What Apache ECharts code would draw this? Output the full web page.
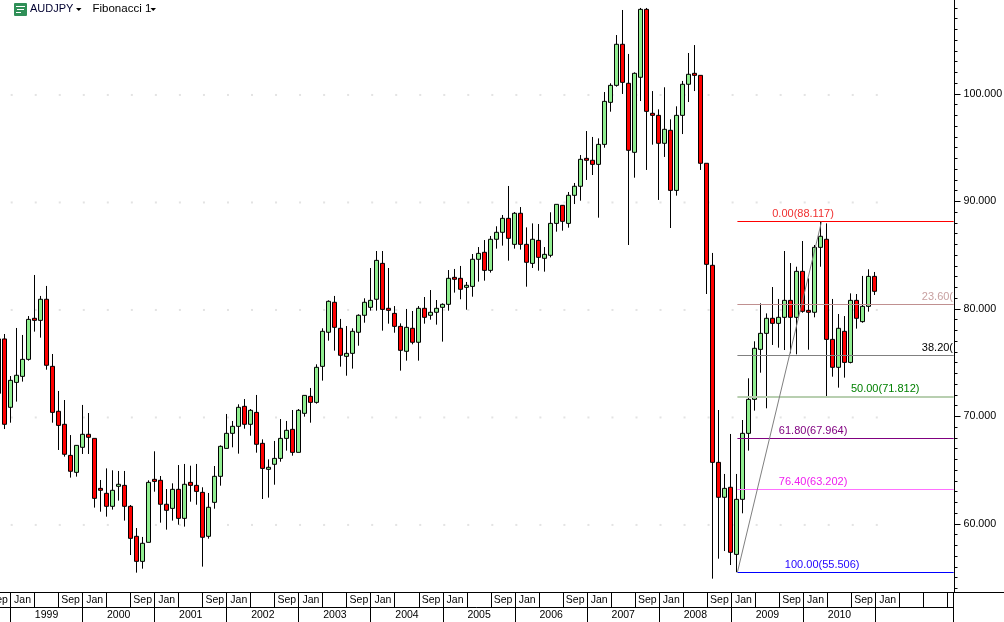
<!DOCTYPE html>
<html>
<head>
<meta charset="utf-8">
<title>AUDJPY monthly</title>
<style>html,body{margin:0;padding:0;background:#fff;overflow:hidden}#chart{width:1004px;height:622px}</style>
<script src="https://cdn.jsdelivr.net/npm/echarts@6/dist/echarts.min.js"></script>
</head>
<body>
<div id="chart"></div>
<script>
// Monthly AUD/JPY candles, one row per month: [open, close, low, high]
const bars1998 = [[72.15,77.21,72.15,77.21],[77.21,69.27,68.83,77.67]];
const bars1999 = [[70.85,73.36,69.42,73.76],[73.17,73.83,71.38,78.23],[73.73,75.31,73.24,77.58],[75.31,79.03,75.19,79.34],[79.13,78.94,77.89,83.16],[78.94,80.90,77.33,81.21],[80.90,74.76,74.35,82.14],[74.66,70.38,69.42,75.81],[70.48,69.17,66.88,72.37],[69.27,66.48,66.26,71.53],[66.38,64.90,64.31,68.27],[64.80,67.31,64.40,67.34]];
const bars2000 = [[67.13,68.34,66.51,71.07],[68.34,68.06,66.51,70.32],[67.96,62.38,61.52,67.96],[63.31,63.13,61.14,64.09],[62.85,61.64,60.68,65.17],[61.64,63.13,61.33,64.99],[63.50,63.69,62.17,64.93],[63.59,61.64,60.31,64.93],[61.64,58.66,57.11,61.76],[58.85,56.52,55.47,59.62],[56.52,58.20,55.84,58.79],[58.29,63.87,58.29,64.06]];
const bars2001 = [[64.15,63.96,63.00,66.76],[64.06,61.83,60.12,64.46],[61.83,61.27,59.47,63.25],[61.45,63.22,60.31,63.78],[63.22,60.52,59.93,65.48],[60.52,63.69,59.75,65.58],[63.87,63.59,62.07,65.42],[63.59,63.03,61.79,65.58],[62.94,58.76,56.03,63.41],[58.85,61.55,58.63,62.88],[62.01,64.43,61.42,65.39],[64.43,67.22,63.56,67.31]];
const bars2002 = [[67.03,68.43,67.03,70.23],[68.43,69.08,67.13,69.58],[69.08,70.85,66.54,71.13],[70.94,69.27,68.86,71.62],[69.27,70.57,68.21,70.69],[70.38,67.41,66.63,72.00],[67.50,65.17,62.32,67.87],[65.08,65.27,62.45,66.01],[65.55,66.10,63.65,67.72],[66.10,67.96,65.79,69.76],[67.96,68.71,66.82,69.58],[68.80,66.66,66.35,70.60]];
const bars2003 = [[66.66,70.57,66.66,70.69],[70.29,71.96,69.98,71.96],[71.87,71.31,69.42,72.65],[71.31,74.57,71.19,74.85],[74.66,77.92,73.33,78.20],[77.83,80.71,77.05,80.80],[80.62,78.29,76.12,81.21],[78.20,75.69,74.63,79.07],[75.59,75.87,73.79,78.41],[75.87,77.92,74.45,78.20],[77.83,79.41,76.58,79.50],[79.41,80.62,78.72,80.99]];
const bars2004 = [[80.15,80.80,79.84,83.81],[80.90,84.52,79.84,85.39],[84.24,79.96,77.98,85.39],[80.06,79.87,78.63,83.81],[79.59,78.38,77.79,80.27],[78.38,76.15,74.26,78.66],[76.06,78.29,75.19,80.00],[78.20,76.90,76.71,79.81],[76.90,80.06,75.19,80.27],[80.06,79.22,78.63,81.11],[79.41,79.69,79.00,81.76],[79.69,80.06,78.54,80.83]];
const bars2005 = [[80.15,80.43,76.96,80.52],[80.43,82.85,79.84,83.62],[82.94,82.76,81.52,83.72],[82.85,81.83,80.90,84.00],[82.01,82.20,79.93,82.51],[82.10,84.62,81.14,85.11],[84.62,85.17,82.54,85.76],[85.27,83.59,82.63,86.41],[83.59,86.48,83.38,86.79],[86.48,87.13,85.61,87.69],[87.13,88.43,85.89,88.74],[88.43,86.57,84.49,91.44]];
const bars2006 = [[86.01,88.90,85.61,89.02],[88.90,86.01,85.52,89.48],[86.01,84.34,82.07,87.59],[84.24,86.48,83.81,87.96],[86.38,84.80,83.56,87.90],[84.71,85.08,83.47,85.76],[84.99,87.96,84.80,88.99],[87.96,89.73,87.19,89.73],[89.64,88.15,87.28,89.67],[87.96,90.57,87.56,90.88],[90.57,91.41,89.76,91.72],[91.41,93.92,90.07,94.32]];
const bars2007 = [[94.01,93.83,92.00,96.55],[93.83,93.45,92.46,96.00],[93.45,95.31,88.49,95.87],[95.31,99.31,95.00,100.18],[99.22,100.80,98.35,100.99],[100.80,104.62,100.68,105.48],[104.62,101.08,100.00,107.81],[100.99,94.76,85.95,103.72],[94.57,101.92,92.21,102.01],[101.55,107.87,99.34,108.00],[107.87,98.38,92.93,108.00],[98.20,98.01,95.28,100.27]];
const bars2008 = [[98.01,95.41,90.14,98.57],[95.41,96.71,94.14,100.62],[96.62,91.03,87.53,97.64],[91.03,98.01,90.54,98.85],[98.01,100.90,96.27,101.21],[100.90,101.83,99.25,103.81],[101.92,101.73,100.27,104.55],[101.73,93.55,92.93,101.73],[93.55,84.15,81.39,93.55],[84.06,65.73,54.91,85.21],[65.73,62.48,56.77,70.60],[62.48,63.31,57.48,64.65]];
const bars2009 = [[63.41,57.36,56.18,68.37],[57.17,62.29,55.51,64.65],[62.29,68.43,60.99,69.67],[68.43,71.59,66.82,73.55],[71.59,76.34,70.54,76.99],[76.24,77.73,74.07,80.52],[77.73,79.13,70.76,79.59],[79.13,78.66,76.65,82.04],[78.66,79.22,76.40,80.93],[79.22,80.80,76.18,85.39],[80.80,79.22,75.87,84.27],[79.22,83.50,75.78,83.93]];
const bars2010 = [[83.50,79.78,79.65,86.32],[79.87,79.69,76.21,82.85],[79.69,85.73,79.22,85.95],[85.73,86.76,83.93,88.12],[86.48,77.17,71.81,87.96],[77.17,74.57,73.70,80.93],[74.57,78.20,72.68,79.53],[77.92,75.03,73.61,79.34],[75.03,80.80,74.94,81.45],[80.80,79.13,78.17,81.39],[78.82,80.24,78.72,83.07],[80.24,83.03,79.75,83.69]];
const bars2011 = [[83.03,81.64,81.30,83.44]];

const priceMin = 53.67, priceMax = 108.74;
const priceLabels = [60, 70, 80, 90, 100];
const priceTicks = [54,55,56,57,58,59,61,62,63,64,65,66,67,68,69,71,72,73,74,75,76,77,78,79,81,82,83,84,85,86,87,88,89,91,92,93,94,95,96,97,98,99,101,102,103,104,105,106,107,108];

// Calendar strip, in months counted from January 1999
const yearLabels = ['1999','2000','2001','2002','2003','2004','2005','2006','2007','2008','2009','2010'];
const monthCellStarts = [-4,0,4,8,12,16,20,24,28,32,36,40,44,48,52,56,60,64,68,72,76,80,84,88,92,96,100,104,108,112,116,120,124,128,132,136,140,144,148,152,156];
const monthCellLabels = ['Sep','Jan','','Sep','Jan','','Sep','Jan','','Sep','Jan','','Sep','Jan','','Sep','Jan','','Sep','Jan','','Sep','Jan','','Sep','Jan','','Sep','Jan','','Sep','Jan','','Sep','Jan','','Sep','Jan','','',''];

// Fibonacci retracement drawn from the 2008 low to the 2010 high
const fibStartMonth = 121, fibPeakMonth = 135, fibEndMonth = 157;
const fibLow = 55.506, fibHigh = 88.117;
const fibPrices = [88.117, 80.421, 75.660, 71.812, 67.964, 63.202, 55.506];
const fibLabels = ['0.00(88.117)', '23.60(', '38.20(', '50.00(71.812)', '61.80(67.964)', '76.40(63.202)', '100.00(55.506)'];
const fibLabelMonths = [126.8, 151.7, 151.7, 139.9, 127.9, 127.9, 128.9];
const fibLineColors = ['#ff0000', '#c09090', '#808080', '#b8cfb0', '#800080', '#ff70ff', '#0000ff'];
const fibLineWidths = [1, 1, 1, 2, 1, 1, 1];
const fibTextColors = ['#f03030', '#c8a0a0', '#000000', '#008000', '#800080', '#f020f0', '#2000ff'];

const bars = [].concat(bars1998, bars1999, bars2000, bars2001, bars2002, bars2003, bars2004, bars2005, bars2006, bars2007, bars2008, bars2009, bars2010, bars2011);
const FONT = '"Liberation Sans", Arial, sans-serif';
const TEXT_FONT = '10.5px ' + FONT;
const CAPTION_FONT = '11px ' + FONT;

// Category slots cover the bars plus the empty months before the price scale
const SLOT_COUNT = 160;
const slots = [];
for (let i = 0; i < SLOT_COUNT; i++) {
  const m = i - 2;
  const year = 1999 + Math.floor(m / 12);
  slots.push(year + '-' + String(((m % 12) + 12) % 12 + 1).padStart(2, '0'));
}

// Pixel scale of the calendar axes
const MONTH_PX = 6.0075, ORIGIN_PX = 10.5;
const monthAt = px => (px - ORIGIN_PX) / MONTH_PX;

const snap = v => Math.round(v - 0.5) + 0.5;
const inkLine = (x1, y1, x2, y2, color, width) => ({
  type: 'line',
  shape: { x1, y1, x2, y2 },
  style: { stroke: color, lineWidth: width || 1 }
});
const cellText = (text, x, y) => ({
  type: 'text',
  style: { text, x, y, fill: '#000', font: TEXT_FONT, align: 'center', verticalAlign: 'middle' }
});

// Grid dots every four months on each labelled price
const gridDots = [];
priceLabels.forEach(p => {
  for (let m = 0; m <= 144; m += 4) gridDots.push([m + 0.2, p]);
});

const chart = echarts.init(document.getElementById('chart'), null, { renderer: 'canvas' });
chart.setOption({
  animation: false,
  backgroundColor: '#ffffff',
  grid: [
    { left: -4.5, top: 0, width: 960, height: 592, outerBoundsMode: 'none' },
    { left: 0, top: 592, width: 1004, height: 30, outerBoundsMode: 'none' }
  ],
  xAxis: [
    { type: 'category', gridIndex: 0, data: slots, show: false },
    { type: 'value', gridIndex: 0, show: false, min: monthAt(-4.5), max: monthAt(955.5) },
    { type: 'value', gridIndex: 1, show: false, min: monthAt(0), max: monthAt(1004) }
  ],
  yAxis: [
    {
      type: 'value', gridIndex: 0, position: 'right', offset: -1, min: priceMin, max: priceMax,
      axisLine: { show: true, onZero: false, lineStyle: { color: '#000' } },
      axisTick: { show: true, length: 6, lineStyle: { color: '#000' }, customValues: priceLabels },
      axisLabel: {
        show: true, color: '#000', margin: 9, fontFamily: FONT, fontSize: 10.7, padding: [2, 0, 0, 0],
        customValues: priceLabels, formatter: v => v.toFixed(3)
      },
      splitLine: { show: false }
    },
    {
      type: 'value', gridIndex: 0, position: 'right', offset: -1, min: priceMin, max: priceMax,
      axisLine: { show: false, onZero: false },
      axisTick: { show: true, length: 3, lineStyle: { color: '#000' }, customValues: priceTicks },
      axisLabel: { show: false },
      splitLine: { show: false }
    },
    { type: 'value', gridIndex: 1, show: false, min: 0, max: 2 }
  ],
  graphic: [
    { type: 'line', silent: true, z: 10, shape: { x1: 0, y1: 592.5, x2: 1004, y2: 592.5 }, style: { stroke: '#000', lineWidth: 1 } },
    { type: 'rect', silent: true, z: 10, shape: { x: 14, y: 3, width: 13, height: 13, r: 1 }, style: { fill: '#2f8f57' } },
    { type: 'line', silent: true, z: 11, shape: { x1: 16, y1: 6.5, x2: 25, y2: 6.5 }, style: { stroke: '#fff', lineWidth: 1 } },
    { type: 'line', silent: true, z: 11, shape: { x1: 17, y1: 9.5, x2: 24, y2: 9.5 }, style: { stroke: '#fff', lineWidth: 1 } },
    { type: 'line', silent: true, z: 11, shape: { x1: 16, y1: 12.5, x2: 21, y2: 12.5 }, style: { stroke: '#fff', lineWidth: 1 } },
    { type: 'text', silent: true, z: 11, style: { text: 'AUDJPY', x: 30, y: 9, fill: '#000030', font: '11px ' + FONT, verticalAlign: 'middle' } },
    { type: 'polygon', silent: true, z: 11, shape: { points: [[76, 8], [81.5, 8], [78.75, 11]] }, style: { fill: '#000' } },
    { type: 'text', silent: true, z: 11, style: { text: 'Fibonacci 1', x: 92.5, y: 9, fill: '#000', font: '11.5px ' + FONT, verticalAlign: 'middle' } },
    { type: 'polygon', silent: true, z: 11, shape: { points: [[150.5, 8], [156, 8], [153.25, 11]] }, style: { fill: '#000' } }
  ],
  series: [
    {
      type: 'scatter', xAxisIndex: 1, yAxisIndex: 0, z: 1, silent: true,
      symbol: 'rect', symbolSize: 2, symbolOffset: [0, 1],
      itemStyle: { color: '#dcdcdc' },
      data: gridDots
    },
    {
      type: 'candlestick', xAxisIndex: 0, yAxisIndex: 0, z: 2, silent: true, barWidth: 4,
      itemStyle: {
        color: '#90ee90', color0: '#ff0000',
        borderColor: '#000', borderColor0: '#000', borderColorDoji: '#000', borderWidth: 1
      },
      data: bars
    },
    {
      // Retracement levels with their captions
      type: 'custom', xAxisIndex: 1, yAxisIndex: 0, z: 3, silent: true, clip: false,
      data: fibPrices.map(p => [fibStartMonth, p]),
      renderItem(params, api) {
        const i = params.dataIndex;
        const start = api.coord([fibStartMonth, fibPrices[i]]);
        const end = api.coord([fibEndMonth, fibPrices[i]]);
        const caption = api.coord([fibLabelMonths[i], fibPrices[i]]);
        const y = fibLineWidths[i] % 2 ? snap(start[1]) : Math.round(start[1]);
        return {
          type: 'group',
          children: [
            inkLine(start[0], y, end[0], y, fibLineColors[i], fibLineWidths[i]),
            {
              type: 'text',
              style: {
                text: fibLabels[i], x: caption[0], y: y - 8,
                fill: fibTextColors[i], font: CAPTION_FONT, verticalAlign: 'middle'
              }
            }
          ]
        };
      }
    },
    {
      // Trend line joining the two anchors of the retracement
      type: 'custom', xAxisIndex: 1, yAxisIndex: 0, z: 3, silent: true, clip: false,
      data: [[fibStartMonth, fibLow]],
      renderItem(params, api) {
        const a = api.coord([fibStartMonth, fibLow]);
        const b = api.coord([fibPeakMonth, fibHigh]);
        return inkLine(a[0], a[1], b[0], b[1], '#808080', 1);
      }
    },
    {
      // Month cells along the top row of the strip
      type: 'custom', xAxisIndex: 2, yAxisIndex: 2, z: 5, silent: true, clip: false,
      data: monthCellStarts.map(m => [m, 1]),
      renderItem(params, api) {
        const i = params.dataIndex;
        const m = monthCellStarts[i];
        const p = api.coord([m, 2]);
        const q = api.coord([m, 1]);
        const next = api.coord([m + 4, 1]);
        const x = snap(p[0]);
        const children = [inkLine(x, p[1], x, q[1], '#000', 1)];
        if (monthCellLabels[i]) children.push(cellText(monthCellLabels[i], (p[0] + next[0]) / 2, (p[1] + q[1]) / 2 + 0.5));
        return { type: 'group', children };
      }
    },
    {
      // Year cells along the bottom row of the strip
      type: 'custom', xAxisIndex: 2, yAxisIndex: 2, z: 5, silent: true, clip: false,
      data: yearLabels.concat(['']).map((y, i) => [i * 12, 0]),
      renderItem(params, api) {
        const i = params.dataIndex;
        const m = i * 12;
        const p = api.coord([m, 1]);
        const q = api.coord([m, 0]);
        const next = api.coord([m + 12, 0]);
        const x = snap(p[0]);
        const children = [inkLine(x, p[1], x, q[1], '#000', 1)];
        if (yearLabels[i]) children.push(cellText(yearLabels[i], (p[0] + next[0]) / 2, (p[1] + q[1]) / 2 + 0.5));
        return { type: 'group', children };
      }
    },
    {
      // Rules closing the strip: row divider and the edge of the price scale
      type: 'custom', xAxisIndex: 2, yAxisIndex: 2, z: 5, silent: true, clip: false,
      data: [[fibEndMonth, 1]],
      renderItem(params, api) {
        const mid = api.coord([fibEndMonth, 1]);
        const foot = api.coord([fibEndMonth, 0]);
        const top = api.coord([fibEndMonth, 2]);
        const x = snap(mid[0]);
        return {
          type: 'group',
          children: [
            inkLine(0, mid[1] + 0.5, x, mid[1] + 0.5, '#000', 1),
            inkLine(x, top[1], x, foot[1], '#000', 1)
          ]
        };
      }
    }
  ]
});
</script>
</body>
</html>
